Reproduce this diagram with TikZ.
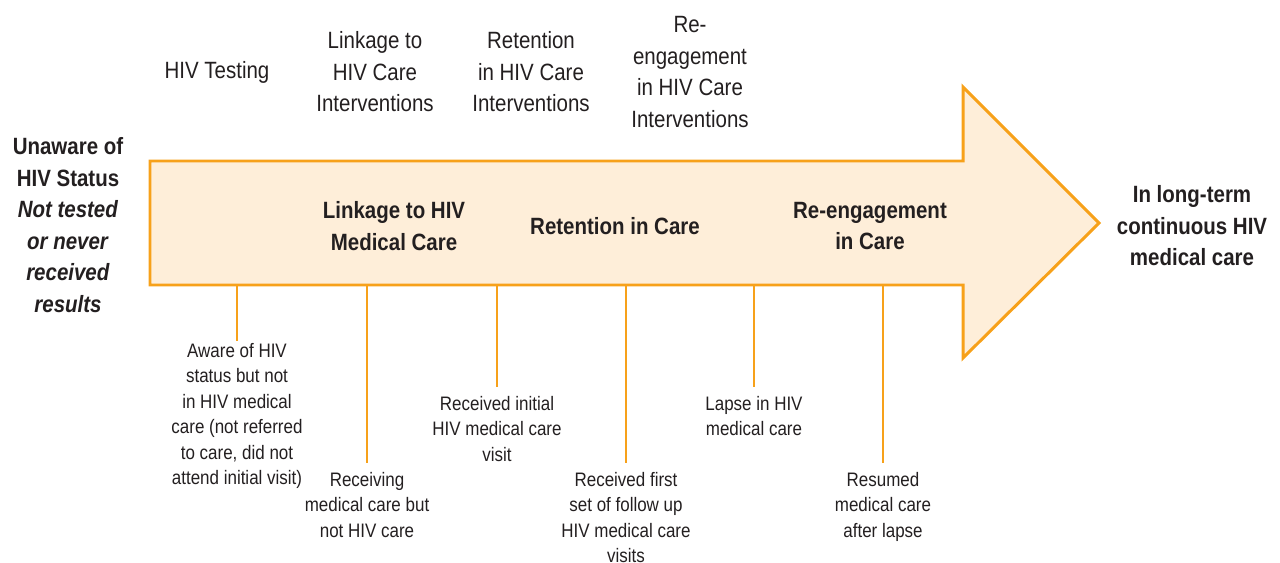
\documentclass[tikz,border=0pt]{standalone}
\usepackage{fontspec}
\setmainfont{Liberation Sans}[FakeStretch=0.87]
\usepackage{xcolor}
\usetikzlibrary{positioning}
\definecolor{careorange}{HTML}{F7A11A}
\definecolor{carefill}{HTML}{FEEED9}
\definecolor{caretext}{HTML}{231F20}

\begin{document}
\begin{tikzpicture}[x=0.02cm, y=-0.02cm]
  \tikzset{
    arrowbody/.style={
      draw=careorange,
      fill=carefill,
      line width=1.7pt,
      line join=miter
    },
    tick/.style={
      draw=careorange,
      line width=1.1pt
    },
    stage/.style={
      font=\fontsize{13.4}{17.9}\selectfont,
      text=caretext,
      align=center,
      inner sep=0pt
    },
    phase/.style={
      font=\fontsize{13.4}{17.9}\selectfont\bfseries,
      text=caretext,
      align=center,
      inner sep=0pt
    },
    event/.style={
      font=\fontsize{11.1}{14.5}\selectfont,
      text=caretext,
      align=center,
      anchor=north,
      inner sep=1pt
    }
  }
  \useasboundingbox (0,0) rectangle (1280,563);

  % The big arrow
  \draw[arrowbody] (150,161) -- (963,161) -- (963,87) -- (1099,223)
    -- (963,358) -- (963,285) -- (150,285) -- cycle;

  % Interventions above the arrow
  \node[stage] (testing) at (217,72) {HIV Testing};
  \node[stage] (linkint) at (375,72) {Linkage to\\HIV Care\\Interventions};
  \node[stage] (retint) at (531,72) {Retention\\in HIV Care\\Interventions};
  \node[stage] (reint) at (690,72) {Re-\\engagement\\in HIV Care\\Interventions};

  % Start and end states
  \node[phase] (unaware) at (68,225) {Unaware of\\HIV Status\\
    \textit{Not tested}\\\textit{or never}\\\textit{received}\\\textit{results}};
  \node[phase] (longterm) at (1192,226) {In long-term\\continuous HIV\\medical care};

  % Phases inside the arrow
  \node[phase] (linkage) at (394,226) {Linkage to HIV\\Medical Care};
  \node[phase] (retention) at (615,226) {Retention in Care};
  \node[phase] (reengage) at (870,226) {Re-engagement\\in Care};

  % Ticks on the lower edge of the arrow
  \coordinate (t1) at (237,285);
  \coordinate (t2) at (367,285);
  \coordinate (t3) at (497,285);
  \coordinate (t4) at (626,285);
  \coordinate (t5) at (754,285);
  \coordinate (t6) at (883,285);

  % Events below the arrow
  \node[event] (aware) at (237,341) {Aware of HIV\\status but not\\in HIV medical\\care (not referred\\to care, did not\\attend initial visit)};
  \node[event] (receiving) at (367,470) {Receiving\\medical care but\\not HIV care};
  \node[event] (initial) at (497,394) {Received initial\\HIV medical care\\visit};
  \node[event] (followup) at (626,470) {Received first\\set of follow up\\HIV medical care\\visits};
  \node[event] (lapse) at (754,394) {Lapse in HIV\\medical care};
  \node[event] (resumed) at (883,470) {Resumed\\medical care\\after lapse};

  \draw[tick] (t1) -- (aware.north);
  \draw[tick, shorten >=4pt] (t2) -- (receiving.north);
  \draw[tick, shorten >=4pt] (t3) -- (initial.north);
  \draw[tick, shorten >=4pt] (t4) -- (followup.north);
  \draw[tick, shorten >=4pt] (t5) -- (lapse.north);
  \draw[tick, shorten >=4pt] (t6) -- (resumed.north);
\end{tikzpicture}
\end{document}
